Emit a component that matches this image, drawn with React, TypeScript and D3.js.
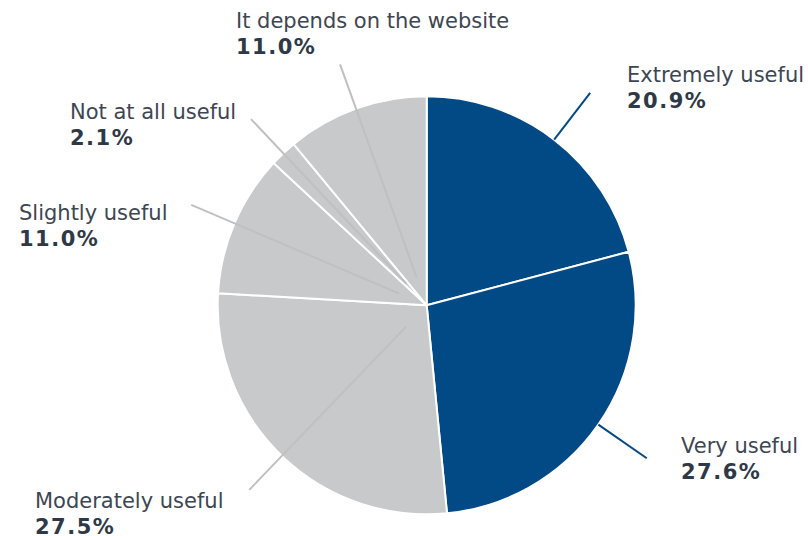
import React from 'react'
import * as d3 from 'd3'

const categories = [
  'Extremely useful',
  'Very useful',
  'Moderately useful',
  'Slightly useful',
  'Not at all useful',
  'It depends on the website',
]
const shares = [20.9, 27.6, 27.5, 11.0, 2.1, 11.0]
const sliceColors = ['#024a86', '#024a86', '#c8c9cb', '#c8c9cb', '#c8c9cb', '#c8c9cb']
const lineColors = ['#024a86', '#024a86', '#bfc0c2', '#bfc0c2', '#bfc0c2', '#bfc0c2']

// where each label block sits (first baseline), set by hand like the original
const labelAnchors: [number, number][] = [
  [627, 82],
  [681, 453],
  [35, 508],
  [19, 220],
  [70, 119],
  [236, 28],
]

const width = 808
const height = 536
const cx = 426.7
const cy = 305.3
const radius = 209

export default function App() {
  const pie = d3
    .pie<number>()
    .sort(null)
    .value((d) => d)
  const arcs = pie(shares)
  const arc = d3.arc<d3.PieArcDatum<number>>().innerRadius(0).outerRadius(radius)

  const lineFor = (a: d3.PieArcDatum<number>, i: number) => {
    const mid = (a.startAngle + a.endAngle) / 2
    const r0 = i < 2 ? radius : 30
    const r1 = i < 2 ? 268 : 256
    return {
      x1: Math.sin(mid) * r0,
      y1: -Math.cos(mid) * r0,
      x2: Math.sin(mid) * r1,
      y2: -Math.cos(mid) * r1,
    }
  }

  return (
    <svg
      width={width}
      height={height}
      style={{ position: 'absolute', left: 0, top: 0, fontFamily: '"DejaVu Sans", Verdana, sans-serif' }}
    >
      <rect width={width} height={height} fill="#fff" />
      <g transform={`translate(${cx},${cy})`}>
        {arcs.map((a, i) => (
          <path key={i} d={arc(a) ?? ''} fill={sliceColors[i]} stroke="#fff" strokeWidth={2} strokeLinejoin="round" />
        ))}
        {arcs.map((a, i) => {
          const l = lineFor(a, i)
          return <line key={i} {...l} stroke={lineColors[i]} strokeWidth={2} />
        })}
      </g>
      {categories.map((c, i) => (
        <g key={c}>
          <text x={labelAnchors[i][0]} y={labelAnchors[i][1]} fontSize={21} fill="#3d4653">
            {c}
          </text>
          <text
            x={labelAnchors[i][0]}
            y={labelAnchors[i][1] + 25.5}
            fontSize={21}
            fontWeight="bold"
            letterSpacing={1.5}
            fill="#2f3946"
          >
            {d3.format('.1f')(shares[i])}%
          </text>
        </g>
      ))}
    </svg>
  )
}
